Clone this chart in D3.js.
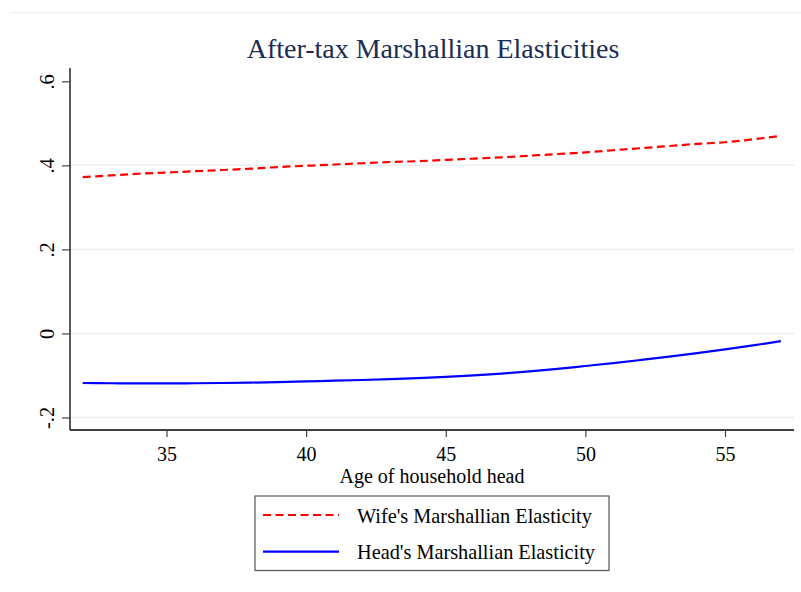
<!DOCTYPE html>
<html><head><meta charset="utf-8">
<script src="https://cdn.jsdelivr.net/npm/d3@7"></script>
<style>body{margin:0;background:#fff}svg{display:block}text{font-family:"Liberation Serif","Times New Roman",serif}</style>
</head><body>
<svg id="c" width="801" height="592"></svg>
<script>
const ages = [32,33,34,35,36,37,38,39,40,41,42,43,44,45,46,47,48,49,50,51,52,53,54,55,56,57];
const wife = [0.372,0.376,0.380,0.383,0.386,0.389,0.392,0.396,0.399,0.402,0.405,0.408,0.410,0.413,0.416,0.419,0.423,0.427,0.431,0.436,0.441,0.446,0.451,0.455,0.462,0.470];
const head = [-0.118,-0.1185,-0.119,-0.119,-0.1185,-0.118,-0.117,-0.1157,-0.114,-0.1125,-0.1108,-0.1088,-0.1063,-0.1033,-0.0997,-0.0955,-0.0905,-0.0845,-0.0775,-0.0705,-0.063,-0.0553,-0.047,-0.038,-0.0285,-0.0185];
const xTicks = [35,40,45,50,55];
const yTicks = [-0.2,0,0.2,0.4,0.6];
const yTickLabels = ["-.2","0",".2",".4",".6"];
const gridTicks = [-0.2,0,0.2,0.4];
const seriesNames = ["Wife's Marshallian Elasticity","Head's Marshallian Elasticity"];
const title = "After-tax Marshallian Elasticities";
const xTitle = "Age of household head";

const svg = d3.select("#c");
const L=70, R=794, T=68, B=430;
const x = d3.scaleLinear().domain([31.545,57.47]).range([L,R]);
const y = d3.scaleLinear().domain([-0.2298,0.6317]).range([B,T]);

svg.append("line").attr("x1",11).attr("x2",801).attr("y1",12.5).attr("y2",12.5).attr("stroke","#f0f0f0").attr("stroke-width",1);

svg.append("text").attr("x",433).attr("y",58).attr("text-anchor","middle")
  .attr("font-size",28).attr("fill","#1c2d55").text(title);

// grid
svg.append("g").selectAll("line").data(gridTicks).join("line")
  .attr("x1",L).attr("x2",R).attr("y1",d=>y(d)).attr("y2",d=>y(d))
  .attr("stroke","#e8f0f1").attr("stroke-width",1.5);

// y axis
const ya = svg.append("g").attr("transform",`translate(${L},0)`)
  .call(d3.axisLeft(y).tickValues(yTicks).tickSize(8).tickFormat((d,i)=>yTickLabels[i]));
ya.select(".domain").attr("d",`M0,${T}V${B}`).attr("stroke","#000").attr("stroke-width",1.3);
ya.selectAll(".tick line").attr("stroke","#444").attr("stroke-width",1.2);
ya.selectAll(".tick text").attr("font-size",20.5).attr("fill","#000")
  .attr("font-family","Liberation Serif,serif")
  .attr("transform","rotate(-90)").attr("x",0).attr("y",-16).attr("dy",0).attr("text-anchor","middle");

// x axis
const xa = svg.append("g").attr("transform",`translate(0,${B})`)
  .call(d3.axisBottom(x).tickValues(xTicks).tickSize(7));
xa.select(".domain").attr("d",`M${L},0H${R}`).attr("stroke","#000").attr("stroke-width",1.3);
xa.selectAll(".tick line").attr("stroke","#444").attr("stroke-width",1.2);
xa.selectAll(".tick text").attr("font-size",20).attr("fill","#000")
  .attr("font-family","Liberation Serif,serif").attr("y",31).attr("dy",0);

svg.append("text").attr("x",432).attr("y",482.5).attr("text-anchor","middle")
  .attr("font-size",20).attr("fill","#000").text(xTitle);

const line = d3.line().x(d=>x(d[0])).y(d=>y(d[1])).curve(d3.curveMonotoneX);
svg.append("path").datum(ages.map((a,i)=>[a,wife[i]])).attr("d",line)
  .attr("fill","none").attr("stroke","#ff0000").attr("stroke-width",2.2).attr("stroke-dasharray","8,4.5");
svg.append("path").datum(ages.map((a,i)=>[a,head[i]])).attr("d",line)
  .attr("fill","none").attr("stroke","#0000ff").attr("stroke-width",2.2);

// legend
const lg = svg.append("g");
lg.append("rect").attr("x",255).attr("y",496).attr("width",354).attr("height",74.5)
  .attr("fill","#fff").attr("stroke","#555").attr("stroke-width",1.2);
const styles = [{c:"#ff0000",d:"8,4.5"},{c:"#0000ff",d:null}];
seriesNames.forEach((n,i)=>{
  const yy = 515 + i*36.7;
  lg.append("line").attr("x1",263).attr("x2",339).attr("y1",yy).attr("y2",yy)
    .attr("stroke",styles[i].c).attr("stroke-width",2.2).attr("stroke-dasharray",styles[i].d);
  lg.append("text").attr("x",357).attr("y",yy+7.5).attr("font-size",20.3).attr("fill","#000").text(n);
});
</script>
</body></html>
